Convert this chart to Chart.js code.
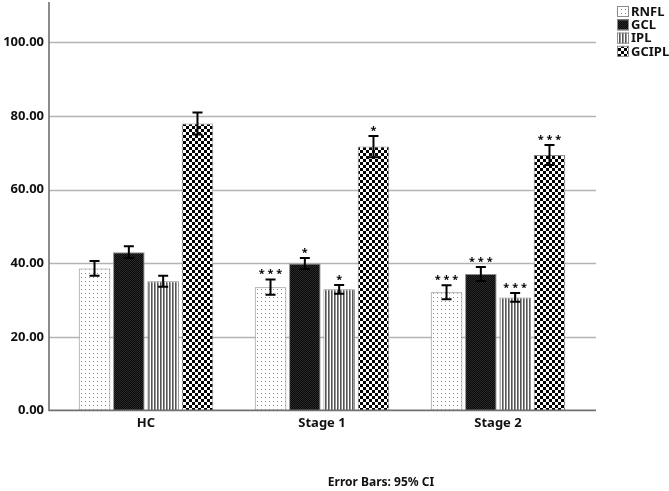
<!DOCTYPE html>
<html>
<head>
<meta charset="utf-8">
<script src="https://cdn.jsdelivr.net/npm/chart.js@4/dist/chart.umd.min.js"></script>
<style>
  html, body { margin: 0; padding: 0; background: #fff; }
  #wrap { width: 669px; height: 491px; }
</style>
</head>
<body>
<div id="wrap"><canvas id="chart"></canvas></div>
<script>
// data
const categories = ['HC', 'Stage 1', 'Stage 2'];
const layerNames = ['RNFL', 'GCL', 'IPL', 'GCIPL'];

const rnflMeans = [38.6, 33.5, 32.1];
const gclMeans = [43.0, 39.9, 37.1];
const iplMeans = [35.1, 32.9, 30.7];
const gciplMeans = [78.0, 71.7, 69.4];

// 95% CI half widths
const rnflCI = [2.0, 2.1, 1.9];
const gclCI = [1.6, 1.5, 1.9];
const iplCI = [1.5, 1.2, 1.2];
const gciplCI = [3.0, 2.9, 2.7];

// significance marks vs HC
const rnflStars = ['', '***', '***'];
const gclStars = ['', '*', '***'];
const iplStars = ['', '*', '***'];
const gciplStars = ['', '*', '***'];

const yTickStep = 20;
const yMax = 111;
const footnote = 'Error Bars: 95% CI';

const FONT = '"Noto Sans", "DejaVu Sans", sans-serif';

// fill patterns
function makePattern(w, h, draw) {
    const c = document.createElement('canvas');
    c.width = w; c.height = h;
    const g = c.getContext('2d');
    draw(g);
    return g.createPattern(c, 'repeat');
}
const patDots = makePattern(4, 4, g => {
    g.fillStyle = '#fff'; g.fillRect(0, 0, 4, 4);
    g.fillStyle = '#8a8a8a'; g.fillRect(1, 1, 1, 1);
});
const patDark = makePattern(2, 2, g => {
    g.fillStyle = '#0a0a0a'; g.fillRect(0, 0, 2, 2);
    g.fillStyle = '#2a2a2a'; g.fillRect(0, 0, 1, 1); g.fillRect(1, 1, 1, 1);
});
const patStripes = makePattern(3, 1, g => {
    g.fillStyle = '#fff'; g.fillRect(0, 0, 3, 1);
    g.fillStyle = '#555'; g.fillRect(1, 0, 1, 1);
    g.fillStyle = '#999'; g.fillRect(2, 0, 1, 1);
});
const patChecker = makePattern(6, 6, g => {
    g.fillStyle = '#fff'; g.fillRect(0, 0, 6, 6);
    g.fillStyle = '#000'; g.fillRect(0, 0, 3, 3); g.fillRect(3, 3, 3, 3);
});

const meansList = [rnflMeans, gclMeans, iplMeans, gciplMeans];
const ciList = [rnflCI, gclCI, iplCI, gciplCI];
const starsList = [rnflStars, gclStars, iplStars, gciplStars];
const fills = [patDots, patDark, patStripes, patChecker];

// gridlines and axis lines reaching a little past the bars, like SPSS
const framePlugin = {
    id: 'frame',
    beforeDatasetsDraw(chart) {
        const { ctx, chartArea, scales } = chart;
        const x0 = chartArea.left - 9, x1 = chartArea.right + 10;
        ctx.save();
        ctx.strokeStyle = '#b4b4b4';
        ctx.lineWidth = 1.6;
        scales.y.ticks.forEach(t => {
            if (t.value === 0) return;
            const y = Math.round(scales.y.getPixelForValue(t.value)) + 0.5;
            ctx.beginPath(); ctx.moveTo(x0, y); ctx.lineTo(x1, y); ctx.stroke();
        });
        ctx.restore();
    },
    afterDatasetsDraw(chart) {
        const { ctx, chartArea, scales } = chart;
        const x0 = chartArea.left - 9, x1 = chartArea.right + 10;
        const yb = scales.y.getPixelForValue(0);
        ctx.save();
        ctx.strokeStyle = '#707070';
        ctx.lineWidth = 1.6;
        ctx.beginPath();
        ctx.moveTo(x0, scales.y.getPixelForValue(yMax));
        ctx.lineTo(x0, yb);
        ctx.lineTo(x1, yb);
        ctx.stroke();

        // error bars + stars
        chart.data.datasets.forEach((ds, di) => {
            const meta = chart.getDatasetMeta(di);
            meta.data.forEach((bar, i) => {
                const m = meansList[di][i], e = ciList[di][i];
                const yt = scales.y.getPixelForValue(m + e);
                const yl = scales.y.getPixelForValue(m - e);
                ctx.strokeStyle = '#000';
                ctx.lineWidth = 2;
                ctx.beginPath();
                ctx.moveTo(bar.x, yt); ctx.lineTo(bar.x, yl);
                ctx.moveTo(bar.x - 5, yt); ctx.lineTo(bar.x + 5, yt);
                ctx.moveTo(bar.x - 5, yl); ctx.lineTo(bar.x + 5, yl);
                ctx.stroke();
                const s = starsList[di][i];
                if (s) {
                    ctx.fillStyle = '#000';
                    ctx.font = 'bold 11px ' + FONT;
                    ctx.textAlign = 'center';
                    ctx.textBaseline = 'alphabetic';
                    ctx.fillText(s.split('').join(' '), bar.x, yt - 2);
                }
            });
        });

        // legend
        ctx.font = 'bold 13px ' + FONT;
        ctx.textAlign = 'left';
        ctx.textBaseline = 'middle';
        chart.data.datasets.forEach((ds, di) => {
            const ly = 6 + di * 13.3;
            ctx.fillStyle = ds.backgroundColor;
            ctx.fillRect(617, ly, 12, 11);
            ctx.strokeStyle = '#8c8c8c';
            ctx.lineWidth = 1;
            ctx.strokeRect(617.5, ly + 0.5, 11, 10);
            ctx.fillStyle = '#111';
            ctx.fillText(ds.label, 631, ly + 6);
        });

        // footnote
        ctx.font = 'bold 12px ' + FONT;
        ctx.textAlign = 'center';
        ctx.fillStyle = '#111';
        ctx.fillText(footnote, 381, 483);
        ctx.restore();
    }
};

new Chart(document.getElementById('chart'), {
    type: 'bar',
    data: {
        labels: categories,
        datasets: layerNames.map((name, di) => ({
            label: name,
            data: meansList[di],
            backgroundColor: fills[di],
            borderColor: '#8c8c8c',
            borderWidth: 1,
            categoryPercentage: 0.78,
            barPercentage: 0.92
        }))
    },
    options: {
        responsive: true,
        maintainAspectRatio: false,
        animation: false,
        layout: { autoPadding: false, padding: { top: 2, right: 83, bottom: 55, left: 0 } },
        plugins: {
            legend: { display: false },
            tooltip: { enabled: false }
        },
        scales: {
            x: {
                grid: { display: false, drawTicks: false },
                border: { display: false },
                ticks: {
                    color: '#111',
                    padding: 5,
                    font: { family: FONT, size: 13, weight: 'bold' }
                }
            },
            y: {
                min: 0,
                max: yMax,
                afterFit(scale) {
                    scale.width = 58;
                    scale.paddingTop = 0;
                    scale.paddingBottom = 0;
                },
                grid: { display: false, drawTicks: false },
                border: { display: false },
                ticks: {
                    stepSize: yTickStep,
                    includeBounds: false,
                    padding: 14,
                    color: '#111',
                    font: { family: FONT, size: 13, weight: 'bold' },
                    callback: v => v.toFixed(2)
                }
            }
        }
    },
    plugins: [framePlugin]
});
</script>
</body>
</html>
